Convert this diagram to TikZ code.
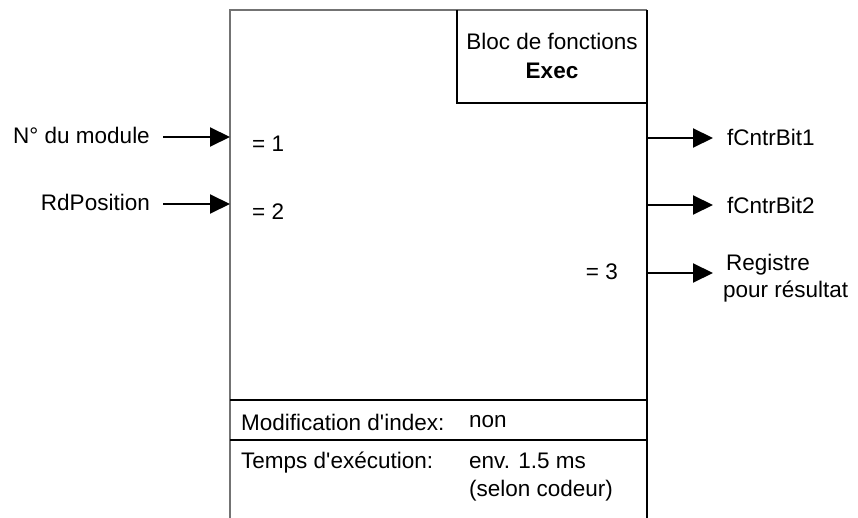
\documentclass[tikz,border=0pt]{standalone}
\usepackage{fontspec}
\setmainfont{Liberation Sans}[Ligatures=TeXOff]
\usetikzlibrary{arrows.meta}
\begin{document}
\begin{tikzpicture}[x=1pt,y=-1pt,
  lbl/.style={font=\fontsize{22.5}{27.5}\selectfont, inner sep=0pt},
  thin line/.style={line width=1.3pt, draw=black!55},
  thick line/.style={line width=2pt, draw=black},
  sig/.style={line width=2pt, -{Triangle[length=20pt,width=19pt]}}]
\useasboundingbox (0,0) rectangle (858,518);
% main box outline (no bottom edge)
\coordinate (tl) at (230,10);
\coordinate (tr) at (647,10);
\coordinate (bl) at (230,518);
\coordinate (br) at (647,518);
\draw[thin line] (bl) -- (tl) -- (tr);
\draw[thick line] (tr) -- (br);
% title box
\coordinate (ttl) at (457,10);
\coordinate (tbl) at (457,103);
\coordinate (tbr) at (647,103);
\draw[thick line] (ttl) -- (tbl) -- (tbr);
\node[lbl] (title) at (552,41) {Bloc de fonctions};
\node[lbl, font=\fontsize{22.5}{27.5}\selectfont\bfseries] (exec) at (552,71) {Exec};
% separators
\coordinate (s1l) at (230,400); \coordinate (s1r) at (647,400);
\coordinate (s2l) at (230,440); \coordinate (s2r) at (647,440);
\draw[thick line] (s1l) -- (s1r);
\draw[thick line] (s2l) -- (s2r);
\node[lbl, anchor=west] (mod) at (241,422) {Modification d'index:};
\node[lbl, anchor=west] (non) at (469,422) {non};
\node[lbl, anchor=west] (tps) at (241,463) {Temps d'exécution:};
\node[lbl, anchor=west, align=left] (env) at (469,477) {env. 1.5 ms\\(selon codeur)};
% inputs
\node[lbl, anchor=east] (in1) at (150,135) {N° du module};
\node[lbl, anchor=east] (in2) at (150,202) {RdPosition};
\coordinate (in1s) at (163,137); \coordinate (in1e) at (230,137);
\coordinate (in2s) at (163,204); \coordinate (in2e) at (230,204);
\draw[sig] (in1s) -- (in1e);
\draw[sig] (in2s) -- (in2e);
\node[lbl, anchor=west] (eq1) at (252,144) {= 1};
\node[lbl, anchor=west] (eq2) at (252,212) {= 2};
% outputs
\coordinate (o1s) at (647,138); \coordinate (o1e) at (713,138);
\coordinate (o2s) at (647,205); \coordinate (o2e) at (713,205);
\coordinate (o3s) at (647,273); \coordinate (o3e) at (713,273);
\draw[sig] (o1s) -- (o1e);
\draw[sig] (o2s) -- (o2e);
\draw[sig] (o3s) -- (o3e);
\node[lbl, anchor=west] (out1) at (727,137) {fCntrBit1};
\node[lbl, anchor=west] (out2) at (727,205) {fCntrBit2};
\node[lbl, anchor=west, align=left] (out3) at (723,278) {\hspace*{3pt}Registre\\pour résultat};
\node[lbl, anchor=east] (eq3) at (618,272) {= 3};
\end{tikzpicture}
\end{document}
